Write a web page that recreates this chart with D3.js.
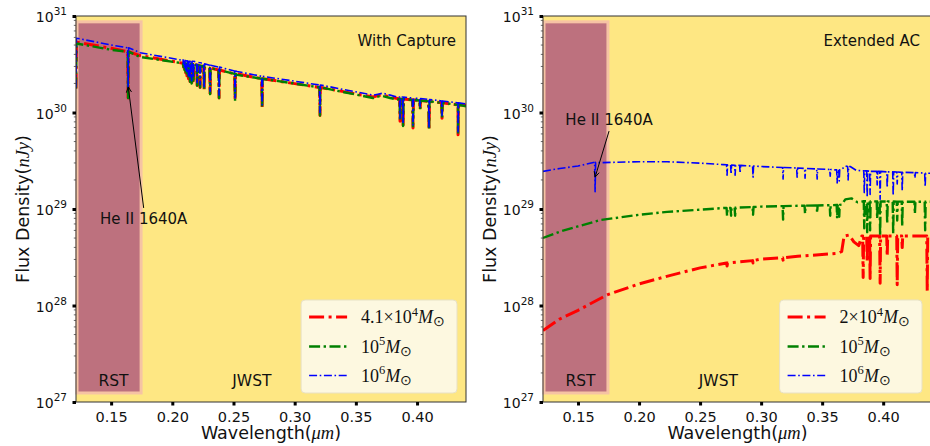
<!DOCTYPE html>
<html>
<head>
<meta charset="utf-8">
<script src="https://cdn.jsdelivr.net/npm/d3@7"></script>
<style>
  body { margin: 0; background: #fff; }
  svg { display: block; font-family: "DejaVu Sans", sans-serif; }
  text { fill: #111; }
</style>
</head>
<body>
<svg id="chart" width="930" height="446"></svg>
<script>
// axes
const xDomain = [0.1213, 0.44];
const yDomain = [1e27, 1e31];
const xTicks = [0.15, 0.20, 0.25, 0.30, 0.35, 0.40];
const yTicks = [1e27, 1e28, 1e29, 1e30, 1e31];
const yTickExp = ["27", "28", "29", "30", "31"];

// telescope bands
const rstBand = [0.1213, 0.1745];
const rstFlux = [1.24e27, 8.7e30];
const bandLabels = [["RST", 0.152], ["JWST", 0.265]];
const bandLabelFlux = 1.47e27;

// spectra: continuum points [wavelength um, log10 flux nJy]
// absorption lines: [wavelength, log10 continuum, log10 bottom]
const leftRedCont = [[0.1213, 30.25], [0.1217, 30.73], [0.150, 30.665], [0.1737, 30.59], [0.2088, 30.515],
  [0.253, 30.40], [0.321, 30.265], [0.364, 30.16], [0.368, 30.175], [0.372, 30.18], [0.378, 30.16],
  [0.384, 30.145], [0.4335, 30.085], [0.44, 30.075]];
const leftGreenCont = [[0.1213, 30.25], [0.1217, 30.715], [0.150, 30.65], [0.1737, 30.575], [0.2088, 30.50],
  [0.253, 30.39], [0.321, 30.255], [0.364, 30.15], [0.368, 30.165], [0.372, 30.17], [0.378, 30.15],
  [0.384, 30.135], [0.4335, 30.075], [0.44, 30.065]];
const leftBlueCont = [[0.1213, 30.26], [0.1217, 30.77], [0.150, 30.70], [0.1737, 30.62], [0.2088, 30.545],
  [0.253, 30.425], [0.321, 30.285], [0.364, 30.18], [0.368, 30.19], [0.372, 30.20], [0.378, 30.18],
  [0.384, 30.16], [0.4335, 30.10], [0.44, 30.09]];
const leftBlueDips = [[0.1639, 30.67, 30.26],
  [0.2092, 30.54, 30.50], [0.2100, 30.54, 30.47], [0.2110, 30.535, 30.44], [0.2120, 30.535, 30.41],
  [0.2132, 30.53, 30.38], [0.2145, 30.53, 30.35], [0.2158, 30.53, 30.33],
  [0.2172, 30.53, 30.36], [0.2203, 30.52, 30.31], [0.2227, 30.515, 30.29], [0.2260, 30.505, 30.26],
  [0.2309, 30.49, 30.22], [0.2382, 30.47, 30.18], [0.2513, 30.43, 30.15], [0.2734, 30.375, 30.08],
  [0.3207, 30.285, 30.00], [0.3861, 30.16, 29.94], [0.3886, 30.16, 29.89], [0.3967, 30.15, 29.87],
  [0.4025, 30.145, 30.06], [0.4098, 30.135, 29.85], [0.4204, 30.12, 29.97], [0.4335, 30.10, 29.80]];
const leftLowDips = [[0.1639, 30.63, 30.15],
  [0.2092, 30.51, 30.47], [0.2100, 30.51, 30.44], [0.2110, 30.505, 30.41], [0.2120, 30.505, 30.38],
  [0.2132, 30.50, 30.35], [0.2145, 30.50, 30.32], [0.2158, 30.50, 30.30],
  [0.2172, 30.50, 30.33], [0.2203, 30.49, 30.28], [0.2227, 30.485, 30.26], [0.2260, 30.475, 30.23],
  [0.2309, 30.46, 30.19], [0.2382, 30.44, 30.15], [0.2513, 30.40, 30.12], [0.2734, 30.35, 30.05],
  [0.3207, 30.26, 29.97], [0.3861, 30.14, 29.91], [0.3886, 30.14, 29.86], [0.3967, 30.13, 29.84],
  [0.4025, 30.125, 30.03], [0.4098, 30.115, 29.82], [0.4204, 30.10, 29.94], [0.4335, 30.08, 29.77]];

const rightRedCont = [[0.1213, 27.74], [0.135, 27.86], [0.150, 27.95], [0.1738, 28.11], [0.199, 28.22],
  [0.225, 28.31], [0.25, 28.39], [0.2992, 28.48], [0.33, 28.51], [0.363, 28.54], [0.366, 28.56],
  [0.368, 28.72], [0.372, 28.73], [0.376, 28.66], [0.380, 28.62], [0.3825, 28.72], [0.44, 28.72]];
const rightRedDips = [[0.2721, 28.44, 28.41], [0.2934, 28.465, 28.44], [0.3180, 28.495, 28.47],
  [0.3836, 28.72, 28.29], [0.3869, 28.72, 28.45], [0.3893, 28.72, 28.28], [0.3975, 28.72, 28.23],
  [0.4033, 28.72, 28.51], [0.4115, 28.72, 28.215], [0.4156, 28.72, 28.60], [0.4361, 28.72, 28.15]];
const rightGreenCont = [[0.1213, 28.70], [0.135, 28.765], [0.150, 28.82], [0.168, 28.885], [0.20, 28.94],
  [0.223, 28.97], [0.269, 29.01], [0.30, 29.025], [0.359, 29.04], [0.366, 29.045], [0.369, 29.10],
  [0.374, 29.11], [0.379, 29.07], [0.3852, 29.08], [0.44, 29.075]];
const rightGreenDips = [[0.2721, 29.01, 28.93], [0.2754, 29.012, 28.93], [0.2787, 29.014, 28.93],
  [0.2934, 29.02, 28.94], [0.3180, 29.03, 28.89], [0.3360, 29.035, 28.95], [0.3459, 29.037, 28.96],
  [0.3566, 29.04, 28.93], [0.3623, 29.042, 28.90], [0.3640, 29.043, 28.92], [0.3845, 29.08, 28.80],
  [0.3869, 29.08, 28.76], [0.3893, 29.08, 28.78], [0.3951, 29.078, 28.90], [0.3975, 29.078, 28.72],
  [0.4033, 29.077, 28.85], [0.4082, 29.077, 28.74], [0.4115, 29.076, 28.88], [0.4156, 29.076, 28.82],
  [0.4260, 29.075, 28.95], [0.4344, 29.075, 28.78]];
const rightBlueCont = [[0.1213, 29.39], [0.135, 29.42], [0.150, 29.445], [0.168, 29.48], [0.20, 29.49],
  [0.223, 29.49], [0.25, 29.475], [0.269, 29.46], [0.30, 29.44], [0.33, 29.425], [0.359, 29.405],
  [0.3655, 29.405], [0.369, 29.445], [0.373, 29.44], [0.378, 29.40], [0.44, 29.37]];
const rightBlueDips = [[0.1640, 29.485, 29.18], [0.2721, 29.458, 29.35], [0.2754, 29.456, 29.36],
  [0.2787, 29.454, 29.35], [0.2828, 29.452, 29.37], [0.2934, 29.445, 29.33], [0.3180, 29.43, 29.31],
  [0.3295, 29.425, 29.33], [0.3360, 29.42, 29.32], [0.3459, 29.415, 29.31], [0.3566, 29.41, 29.34],
  [0.3623, 29.405, 29.27], [0.3640, 29.405, 29.29], [0.3713, 29.44, 29.30], [0.3845, 29.395, 29.17],
  [0.3869, 29.395, 29.12], [0.3893, 29.39, 29.15], [0.3951, 29.39, 29.25], [0.3975, 29.39, 29.10],
  [0.4033, 29.385, 29.22], [0.4082, 29.385, 29.14], [0.4115, 29.383, 29.26], [0.4156, 29.38, 29.19],
  [0.4260, 29.377, 29.32], [0.4344, 29.372, 29.23]];

// legend labels: [prefix, exponent]
const leftLegend = [["4.1×10", "4"], ["10", "5"], ["10", "6"]];
const rightLegend = [["2×10", "4"], ["10", "5"], ["10", "6"]];

// He II 1640A annotations: target [wl, flux], text centre [wl, flux at baseline]
const heLeft = { target: [0.1640, 1.84e30], text: [0.1766, 7.0e28] };
const heRight = { target: [0.1640, 2.14e29], text: [0.1754, 7.4e29] };

const styles = [
  { color: "#ff0000", width: 3, dash: "15,4.5,3,4.5" },
  { color: "#008000", width: 2.4, dash: "11,3.5,2.4,3.5" },
  { color: "#0000ff", width: 1.6, dash: "8,2.6,1.6,2.6" }
];

const panels = [
  { x0: 76, x1: 466, title: "With Capture", legend: leftLegend, he: heLeft, textAbove: false,
    series: [[leftRedCont, leftLowDips], [leftGreenCont, leftLowDips], [leftBlueCont, leftBlueDips]] },
  { x0: 543, x1: 932, title: "Extended AC", legend: rightLegend, he: heRight, textAbove: true,
    series: [[rightRedCont, rightRedDips], [rightGreenCont, rightGreenDips], [rightBlueCont, rightBlueDips]] }
];
const plotTop = 16, plotBottom = 402;
const serif = "'Liberation Serif', 'Times New Roman', serif";

const svg = d3.select("#chart");
svg.append("rect").attr("width", 930).attr("height", 446).attr("fill", "#fff");

const defs = svg.append("defs");

// merge continuum points and line profiles into one path
function spectrum(cont, dips) {
  const pts = cont.map(d => [d[0], d[1]]);
  dips.forEach(d => {
    pts.push([d[0] - 0.0004, d[1]], [d[0], d[2]], [d[0] + 0.0004, d[1]]);
  });
  return pts.sort((a, b) => a[0] - b[0]);
}

panels.forEach((p, i) => {
  const x = d3.scaleLinear().domain(xDomain).range([p.x0, p.x1]);
  const y = d3.scaleLog().domain(yDomain).range([plotBottom, plotTop]);
  const g = svg.append("g");

  defs.append("clipPath").attr("id", "clip" + i)
    .append("rect").attr("x", p.x0).attr("y", plotTop).attr("width", p.x1 - p.x0).attr("height", plotBottom - plotTop);

  // JWST band (whole range) and RST band
  g.append("rect").attr("x", p.x0).attr("y", plotTop).attr("width", p.x1 - p.x0).attr("height", plotBottom - plotTop)
    .attr("fill", "#fee783");
  g.append("rect")
    .attr("x", x(rstBand[0]) + 1).attr("y", y(rstFlux[1]))
    .attr("width", x(rstBand[1]) - x(rstBand[0]) - 1).attr("height", y(rstFlux[0]) - y(rstFlux[1]))
    .attr("fill", "#bd717e").attr("stroke", "#f6c3a4").attr("stroke-width", 3);

  bandLabels.forEach(b => {
    g.append("text").attr("x", x(b[1])).attr("y", y(bandLabelFlux))
      .attr("text-anchor", "middle").attr("font-size", 15.5).text(b[0]);
  });

  // spectra
  const line = d3.line().x(d => x(d[0])).y(d => y(Math.pow(10, d[1])));
  const sg = g.append("g").attr("clip-path", "url(#clip" + i + ")");
  p.series.forEach((s, k) => {
    sg.append("path").datum(spectrum(s[0], s[1]))
      .attr("d", line).attr("fill", "none")
      .attr("stroke", styles[k].color).attr("stroke-width", styles[k].width)
      .attr("stroke-dasharray", styles[k].dash).attr("stroke-linejoin", "round");
  });

  // frame
  g.append("rect").attr("x", p.x0).attr("y", plotTop).attr("width", p.x1 - p.x0).attr("height", plotBottom - plotTop)
    .attr("fill", "none").attr("stroke", "#333").attr("stroke-width", 1);

  // minor y ticks
  const minors = [];
  for (let e = 27; e < 31; e++) for (let m = 2; m < 10; m++) minors.push(m * Math.pow(10, e));
  g.append("g").selectAll("line").data(minors).join("line")
    .attr("x1", p.x0 - 2.2).attr("x2", p.x0).attr("y1", d => y(d)).attr("y2", d => y(d))
    .attr("stroke", "#444").attr("stroke-width", 0.8);

  // y axis
  const ya = g.append("g").attr("transform", `translate(${p.x0},0)`)
    .call(d3.axisLeft(y).tickValues(yTicks).tickSize(3.5).tickFormat(""));
  ya.select(".domain").remove();
  ya.selectAll(".tick line").attr("stroke", "#000").attr("stroke-width", 3);
  yTicks.forEach((t, k) => {
    const tx = g.append("text").attr("x", p.x0 - 9).attr("y", y(t) + 6)
      .attr("text-anchor", "end").attr("font-size", 14);
    tx.append("tspan").text("10");
    tx.append("tspan").attr("font-size", 10.5).attr("dy", -7).text(yTickExp[k]);
  });

  // x axis
  const xa = g.append("g").attr("transform", `translate(0,${plotBottom})`)
    .call(d3.axisBottom(x).tickValues(xTicks).tickSize(3.5).tickPadding(6).tickFormat(d3.format(".2f")));
  xa.select(".domain").remove();
  xa.selectAll(".tick line").attr("stroke", "#000").attr("stroke-width", 3);
  xa.selectAll(".tick text").attr("font-size", 14.5).attr("font-family", "DejaVu Sans").attr("fill", "#111");

  // axis titles
  const xl = g.append("text").attr("x", (p.x0 + p.x1) / 2).attr("y", 439)
    .attr("text-anchor", "middle").attr("font-size", 17.5);
  xl.append("tspan").text("Wavelength(");
  xl.append("tspan").style("font-family", serif).style("font-style", "italic").attr("font-size", 18.5).text("μm");
  xl.append("tspan").text(")");

  const yl = g.append("text").attr("transform", `translate(${p.x0 - 47},${(plotTop + plotBottom) / 2}) rotate(-90)`)
    .attr("text-anchor", "middle").attr("font-size", 17.5);
  yl.append("tspan").text("Flux Density(");
  yl.append("tspan").style("font-family", serif).style("font-style", "italic").attr("font-size", 18.5).text("nJy");
  yl.append("tspan").text(")");

  // panel title
  g.append("text").attr("x", Math.min(p.x1, 930) - 10).attr("y", 46)
    .attr("text-anchor", "end").attr("font-size", 15).text(p.title);

  // He II annotation
  const tx = x(p.he.text[0]), ty = y(p.he.text[1]);
  g.append("text").attr("x", tx).attr("y", ty).attr("text-anchor", "middle").attr("font-size", 15)
    .text("He II 1640A");
  const ax = x(p.he.target[0]), ay = y(p.he.target[1]);
  const sy = p.textAbove ? ty + 6 : ty - 16;
  const ang = Math.atan2(ay - sy, ax - tx);
  g.append("line").attr("x1", tx).attr("y1", sy).attr("x2", ax).attr("y2", ay)
    .attr("stroke", "#000").attr("stroke-width", 1);
  const hl = 6, ha = 0.45;
  g.append("path")
    .attr("d", `M${ax - hl * Math.cos(ang - ha)},${ay - hl * Math.sin(ang - ha)}L${ax},${ay}L${ax - hl * Math.cos(ang + ha)},${ay - hl * Math.sin(ang + ha)}`)
    .attr("fill", "none").attr("stroke", "#000").attr("stroke-width", 1);

  // legend
  const lg = g.append("g");
  const box = lg.append("rect").attr("fill", "#fdf8e0").attr("stroke", "#e8e1c4").attr("stroke-width", 1).attr("rx", 4);
  const rows = [317, 346.5, 375.5];
  let maxW = 0;
  const texts = p.legend.map((l, k) => {
    const t = lg.append("text").attr("y", rows[k] + 6).style("font-family", serif).attr("font-size", 18);
    t.append("tspan").text(l[0]);
    t.append("tspan").attr("font-size", 12.5).attr("dy", -7.5).text(l[1]);
    t.append("tspan").style("font-style", "italic").attr("dy", 7.5).text("M");
    t.append("tspan").attr("font-size", 14).attr("dy", 3).text("⊙");
    maxW = Math.max(maxW, t.node().getComputedTextLength());
    return t;
  });
  const bx1 = Math.min(p.x1, 932) - (i === 0 ? 9 : 10);
  const bw = 8 + 38 + 14 + maxW + 12;
  const bx0 = bx1 - bw;
  box.attr("x", bx0).attr("y", 300).attr("width", bw).attr("height", 93);
  texts.forEach(t => t.attr("x", bx0 + 60));
  styles.forEach((s, k) => {
    lg.append("line").attr("x1", bx0 + 8).attr("x2", bx0 + 46).attr("y1", rows[k]).attr("y2", rows[k])
      .attr("stroke", s.color).attr("stroke-width", s.width).attr("stroke-dasharray", s.dash);
  });
});
</script>
</body>
</html>
